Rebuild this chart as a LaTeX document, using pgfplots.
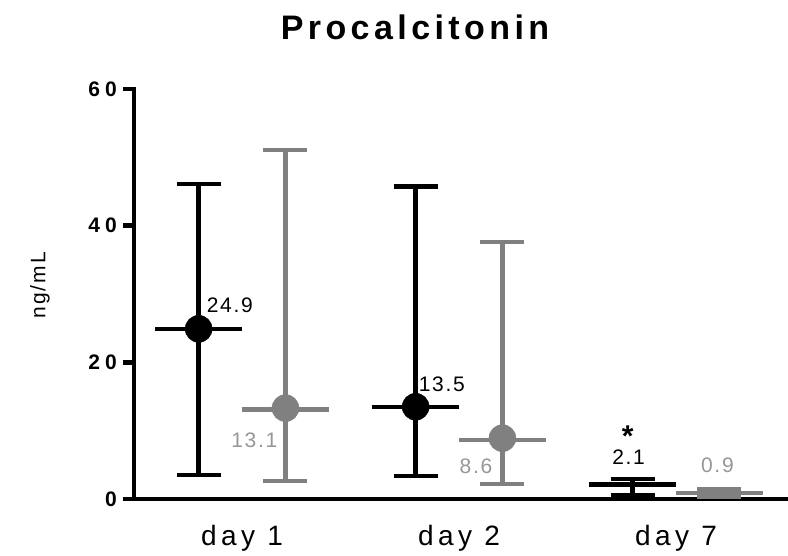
\documentclass[border=0pt]{standalone}
\usepackage{pgfplots}
\usepackage{pgfplotstable}
\pgfplotsset{compat=1.18}
\usepackage{fontspec}
\setmainfont{Liberation Sans}
% letter-spaced faces, sized relative to the 10pt body size
\newfontfamily\titlefam[LetterSpace=13, Scale=3.4]{Liberation Sans}
\newfontfamily\catfam[LetterSpace=16, Scale=2.8]{Liberation Sans}
\newfontfamily\valfam[LetterSpace=8, Scale=2.1]{Liberation Sans}
\newfontfamily\tickfam[LetterSpace=24, Scale=2.1]{Liberation Sans}
\newfontfamily\starfam[Scale=3.0]{Liberation Sans}
\definecolor{grp}{RGB}{128,128,128}
\definecolor{grplab}{RGB}{150,150,150}

% median with error bar ends (plus / minus)
\pgfplotstableread{
x    med   ep    em
0.8  24.9  21.2  21.4
1.8  13.5  32.2  10.1
2.8  2.1   0.8   1.5
}\groupA
\pgfplotstableread{
x    med   ep    em
1.2  13.1  38.0  10.5
2.2  8.6   29.0  6.4
3.2  0.9   0.5   0.5
}\groupB
% mean values (dots)
\pgfplotstableread{
x    mean
0.8  24.9
1.8  13.5
}\meanA
\pgfplotstableread{
x    mean
1.2  13.3
2.2  8.9
}\meanB

\begin{document}
\begin{tikzpicture}
\useasboundingbox (-134pt,-56pt) rectangle (654pt,499pt);
\begin{axis}[
  at={(0pt,0pt)}, anchor=south west,
  scale only axis, width=654pt, height=410pt,
  xmin=0.502, xmax=3.516, ymin=0, ymax=60,
  axis lines=left,
  axis line style={-, line width=4.5pt, line cap=rect},
  clip=false,
  ytick={0,20,40,60},
  yticklabels={0,20,40,60},
  xtick={1,2,3},
  xticklabels={day 1, day 2, day 7},
  tick align=outside,
  major tick length=11pt,
  y tick style={line width=4.5pt, black},
  x tick style={draw=none},
  yticklabel style={font=\tickfam\bfseries, inner sep=0pt, anchor=east, xshift=-6pt},
  xticklabel style={font=\catfam, inner sep=0pt, anchor=base, yshift=-35pt},
]
% group A (black)
\addplot[black, line width=4.5pt, mark=-, mark size=43.5pt,
  mark options={line width=4.5pt},
  error bars/.cd, y dir=both, y explicit,
  error bar style={line width=4.5pt, black},
  error mark options={line width=4.5pt, mark size=22pt, black, rotate=90}]
  table[x=x, y=med, y error plus=ep, y error minus=em, only marks] {\groupA};
% group B (gray)
\addplot[grp, line width=4.5pt, mark=-, mark size=43.5pt,
  mark options={line width=4.5pt},
  error bars/.cd, y dir=both, y explicit,
  error bar style={line width=4.5pt, grp},
  error mark options={line width=4.5pt, mark size=22pt, grp, rotate=90}]
  table[x=x, y=med, y error plus=ep, y error minus=em, only marks] {\groupB};
\addplot[only marks, mark=*, mark size=13.5pt, black] table[x=x, y=mean] {\meanA};
\addplot[only marks, mark=*, mark size=13.5pt, grp, mark options={fill=grp, draw=grp}] table[x=x, y=mean] {\meanB};

% value labels
\begin{scope}[every node/.style={inner sep=0pt, font=\valfam}]
\node[anchor=base west] at ([shift={(8pt,16pt)}]axis cs:0.8,24.9) {24.9};
\node[anchor=base east, text=grplab] at ([shift={(-8pt,-38.5pt)}]axis cs:1.2,13.1) {13.1};
\node[anchor=base west] at ([shift={(3pt,15pt)}]axis cs:1.8,13.5) {13.5};
\node[anchor=base east, text=grplab] at ([shift={(-10pt,-33pt)}]axis cs:2.2,8.6) {8.6};
\node[anchor=base] at ([shift={(-4pt,20.6pt)}]axis cs:2.8,2.1) {2.1};
\node[anchor=base, text=grplab] at ([shift={(-2pt,20pt)}]axis cs:3.2,0.9) {0.9};
\node[anchor=base, font=\starfam\bfseries] at ([shift={(-5pt,38.6pt)}]axis cs:2.8,2.1) {*};
\end{scope}
\end{axis}
\node[anchor=base, font=\titlefam\bfseries] at (281pt,459pt) {Procalcitonin};
\node[rotate=90, font=\valfam] at (-94pt,214pt) {ng/m\hspace{3pt}L};
\end{tikzpicture}
\end{document}
